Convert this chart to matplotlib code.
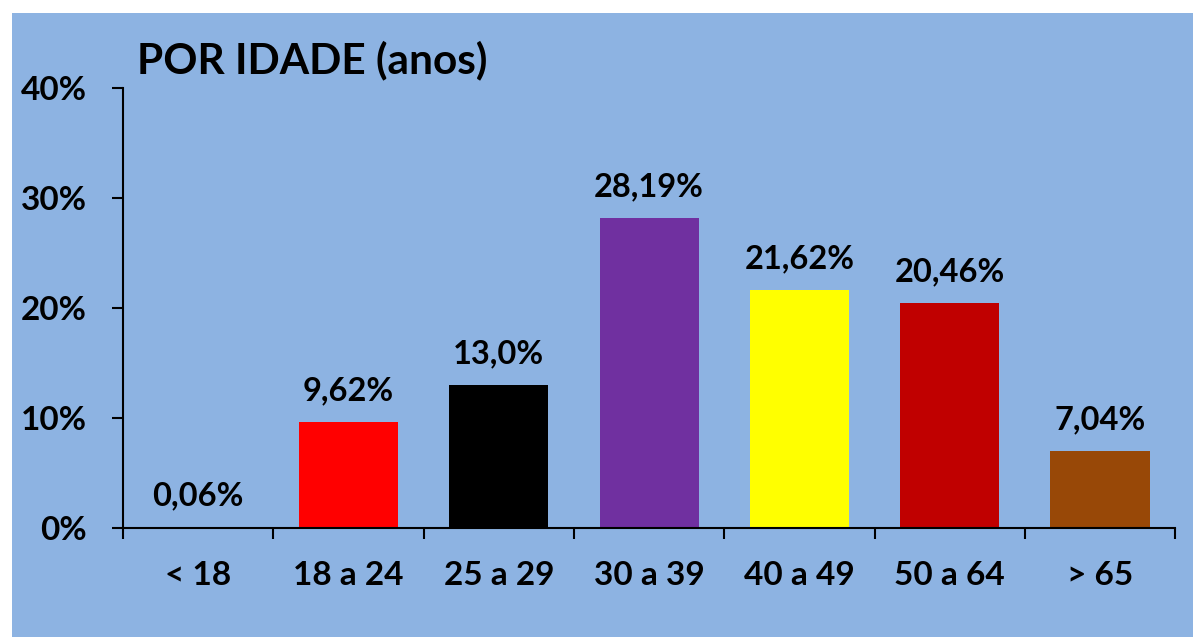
import matplotlib.pyplot as plt
from matplotlib.patches import Rectangle

categorias = ["< 18", "18 a 24", "25 a 29", "30 a 39", "40 a 49", "50 a 64", "> 65"]
valores = [0.06, 9.62, 13.0, 28.19, 21.62, 20.46, 7.04]
rotulos = ["0,06%", "9,62%", "13,0%", "28,19%", "21,62%", "20,46%", "7,04%"]
cores = ["#558ED5", "#FF0000", "#000000", "#7030A0", "#FFFF00", "#C00000", "#984807"]
titulo = "POR IDADE (anos)"

plt.rcParams['font.family'] = ['Lato', 'DejaVu Sans']
plt.rcParams['font.weight'] = 'bold'

fundo = "#8DB3E2"
fig = plt.figure(figsize=(11.93, 6.37), dpi=100, facecolor="white")
fig.patches.append(Rectangle((12 / 1193, 0), 1 - 12 / 1193, 1 - 13 / 637,
                             transform=fig.transFigure, facecolor=fundo,
                             edgecolor="none", zorder=-10))

ax = fig.add_axes([0.1031, 0.1711, 0.882, 0.6908])
ax.set_facecolor("none")

x = list(range(len(categorias)))
ax.bar(x, valores, width=0.66, color=cores, zorder=2)
for xi, v, r in zip(x, valores, rotulos):
    ax.annotate(r, (xi, v), xytext=(0, 12), textcoords="offset points",
                ha="center", va="bottom", fontsize=23.5, fontweight="bold")

ax.set_xlim(-0.5, 6.5)
ax.set_ylim(0, 40)
ax.set_yticks([0, 10, 20, 30, 40])
ax.set_yticklabels(["0%", "10%", "20%", "30%", "40%"], fontsize=24, fontweight="bold")
ax.set_xticks([i - 0.5 for i in range(len(categorias) + 1)])
ax.set_xticklabels([])
ax.set_xticks(x, minor=True)
ax.set_xticklabels(categorias, minor=True, fontsize=24, fontweight="bold")
ax.tick_params(axis="x", which="major", length=8, width=1.5, direction="out")
ax.tick_params(axis="x", which="minor", length=0, pad=24)
ax.tick_params(axis="y", length=8, width=1.5, direction="out", pad=18)

for s in ["top", "right"]:
    ax.spines[s].set_visible(False)
for s in ["left", "bottom"]:
    ax.spines[s].set_linewidth(1.5)

fig.text(137 / 1193, 1 - 60 / 637, titulo, fontsize=30.5, fontweight="bold",
         ha="left", va="center")

plt.savefig("out.png", dpi=100, facecolor="white")
